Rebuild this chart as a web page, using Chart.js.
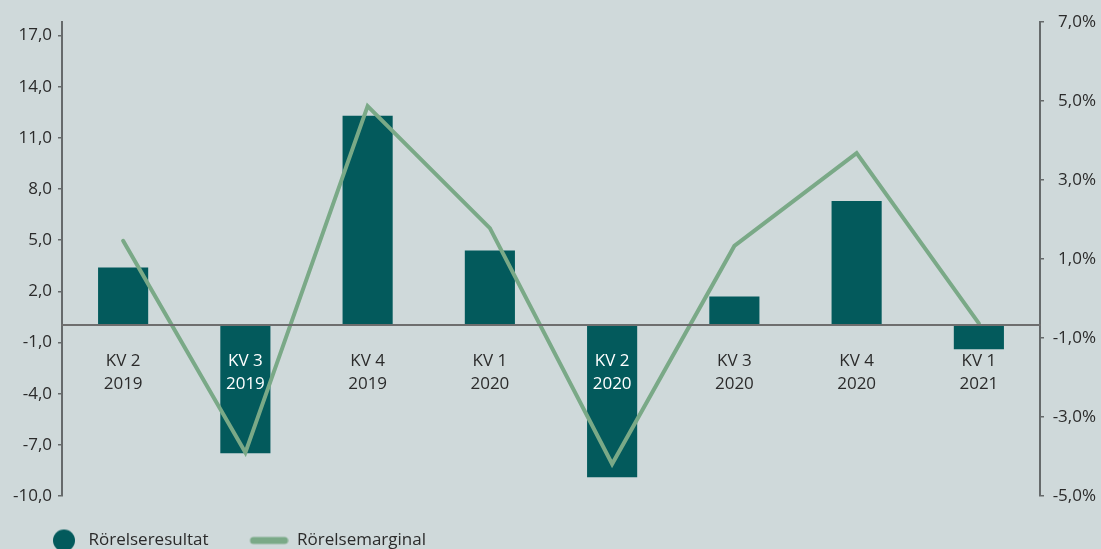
<!DOCTYPE html>
<html><head><meta charset="utf-8">
<script src="https://cdn.jsdelivr.net/npm/chart.js@4.4.0/dist/chart.umd.min.js"></script>
<style>
html,body{margin:0;padding:0;background:#cfd9da;}
#wrap{width:1101px;height:549px;position:relative;}
</style></head><body>
<div id="wrap"><canvas id="c"></canvas></div>
<script>
const categories = [['KV 2','2019'],['KV 3','2019'],['KV 4','2019'],['KV 1','2020'],['KV 2','2020'],['KV 3','2020'],['KV 4','2020'],['KV 1','2021']];
const rorelseresultat = [3.4, -7.5, 12.3, 4.4, -8.9, 1.7, 7.3, -1.4];
const rorelsemarginal = [1.46, -3.90, 4.87, 1.78, -4.19, 1.33, 3.68, -0.63];
const leftTicks = [-10, -7, -4, -1, 2, 5, 8, 11, 14, 17];
const rightTicks = [-5, -3, -1, 1, 3, 5, 7];
const seriesNames = ['Rörelseresultat', 'Rörelsemarginal'];

const FONT = "'Open Sans', sans-serif";
const FS = 17;
const TEXT = '#2b2b2b';
const BAR = '#035a5c';
const LINE = '#7aa987';
const AXIS = '#666a6b';

// legend marker images
const W = 70, P = 10;
const circ = document.createElement('canvas');
circ.width = W; circ.height = 24;
(function(){const g = circ.getContext('2d'); g.fillStyle = BAR; g.beginPath(); g.arc(W - 16, 12, 11, 0, Math.PI * 2); g.fill();})();
const lin = document.createElement('canvas');
lin.width = W; lin.height = 10;

const legendLine = {
  id: 'legendLine',
  beforeDraw(chart) {
    const ctx = chart.ctx;
    ctx.save();
    ctx.font = Chart.helpers.toFont({ family: FONT, size: FS }).string;
    const tw1 = ctx.measureText(seriesNames[0]).width;
    ctx.restore();
    const x2 = chart.legend.left + P + W + FS / 2 + tw1 + P;
    let a = 253.5 - x2, b = 284.5 - x2;
    if (b > W - 3.5) { a -= b - (W - 3.5); b = W - 3.5; }
    if (a < 3.5) { b += 3.5 - a; a = 3.5; }
    const g = lin.getContext('2d');
    g.clearRect(0, 0, W, 10);
    g.strokeStyle = LINE; g.lineWidth = 7; g.lineCap = 'round';
    g.beginPath(); g.moveTo(a, 5); g.lineTo(b, 5); g.stroke();
  }
};

const fmt = v => v.toFixed(1).replace('.', ',');

new Chart(document.getElementById('c'), {
  data: {
    labels: categories,
    datasets: [
      { type: 'bar', label: seriesNames[0], data: rorelseresultat, yAxisID: 'y', backgroundColor: BAR, borderWidth: 0,
        barPercentage: 0.41, categoryPercentage: 1, order: 1 },
      { type: 'line', label: seriesNames[1], data: rorelsemarginal, yAxisID: 'y1', borderColor: LINE, borderWidth: 4,
        pointRadius: 0, tension: 0, fill: false, order: 0, borderCapStyle: 'round', borderJoinStyle: 'miter' }
    ]
  },
  plugins: [legendLine],
  options: {
    responsive: true, maintainAspectRatio: false, animation: false,
    layout: { padding: { top: 22, left: 0, right: 5, bottom: -10 } },
    scales: {
      x: {
        type: 'category', position: { y: 0 },
        grid: { display: false, drawTicks: false },
        border: { display: true, color: '#6e6e6e', width: 2, z: 1 },
        ticks: { z: 1, autoSkip: false, maxRotation: 0, padding: 24,
          font: { family: FONT, size: FS, lineHeight: 1.35 },
          color: c => (c.index === 1 || c.index === 4) ? '#ffffff' : TEXT }
      },
      y: {
        position: 'left', min: -10, max: 17.8,
        afterBuildTicks: s => { s.ticks = leftTicks.map(v => ({ value: v })); },
        afterFit: s => { s.width = 62; },
        grid: { drawOnChartArea: false, drawTicks: true, tickLength: 4, color: AXIS, lineWidth: 1.5 },
        border: { display: true, color: AXIS, width: 2 },
        ticks: { padding: 6, color: TEXT, font: { family: FONT, size: FS }, callback: v => fmt(v) }
      },
      y1: {
        position: 'right', min: -5, max: 7,
        afterBuildTicks: s => { s.ticks = rightTicks.map(v => ({ value: v })); },
        afterFit: s => { s.width = 56; },
        grid: { drawOnChartArea: false, drawTicks: true, tickLength: 4, color: AXIS, lineWidth: 1.5 },
        border: { display: true, color: AXIS, width: 2 },
        ticks: { padding: 3, crossAlign: 'far', color: TEXT, font: { family: FONT, size: FS }, callback: v => fmt(v) + '%' }
      }
    },
    plugins: {
      tooltip: { enabled: false },
      legend: {
        position: 'bottom', align: 'start',
        title: { display: true, text: '', padding: { top: 16, bottom: 0 }, font: { size: 10, lineHeight: 1 } },
        labels: {
          usePointStyle: true, pointStyleWidth: W, padding: P, color: TEXT,
          font: { family: FONT, size: FS },
          generateLabels: chart => {
            const items = Chart.defaults.plugins.legend.labels.generateLabels(chart);
            items.sort((a, b) => a.datasetIndex - b.datasetIndex);
            items.forEach(it => { it.pointStyle = it.datasetIndex === 0 ? circ : lin; });
            return items;
          }
        }
      }
    }
  }
});
</script>
</body></html>
